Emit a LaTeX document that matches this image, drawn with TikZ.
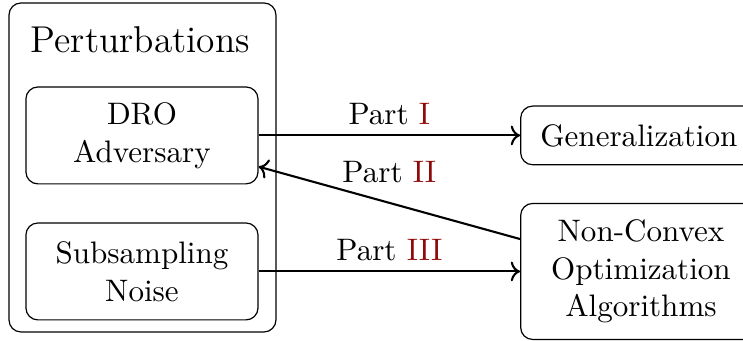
\documentclass[tikz,border=0pt]{standalone}
\usepackage{tikz}
\usetikzlibrary{arrows.meta, positioning, calc}
\definecolor{partred}{RGB}{145,10,10}

\begin{document}
\begin{tikzpicture}[
    font=\fontsize{10.4pt}{12.6pt}\selectfont,
    group/.style={draw, rounded corners, minimum width=3.14cm, minimum height=3.87cm},
    box/.style={draw, rounded corners, minimum width=#1, align=center},
    arrow/.style={->, line width=0.7pt},
]
\useasboundingbox (0,0) rectangle (8.74,4.01);
% Left group - perturbations
\node[group] (P) at (1.676,2.04) {};
\node[font=\fontsize{12.5pt}{15pt}\selectfont] (Ptitle) at (1.65,3.54) {Perturbations};
\node[box=2.73cm, minimum height=1.14cm] (DRO) at (1.67,2.417) {DRO\\Adversary};
\node[box=2.73cm, minimum height=1.14cm] (SUB) at (1.67,0.817) {Subsampling\\Noise};
% Right side - topics
\node[box=2.78cm, minimum height=0.69cm] (GEN) at (7.515,2.417) {Generalization};
\node[box=2.83cm, minimum height=1.6cm] (NCO) at (7.54,0.817) {Non-Convex\\Optimization\\Algorithms};
% Arrows
\draw[arrow] (DRO) -- node[above] {Part \textcolor{partred}{I}} (GEN);
\draw[arrow] (NCO.165) -- node[above=3pt] {Part \textcolor{partred}{II}} (DRO.-15);
\draw[arrow] (SUB) -- node[above] {Part \textcolor{partred}{III}} (NCO);
\end{tikzpicture}
\end{document}
